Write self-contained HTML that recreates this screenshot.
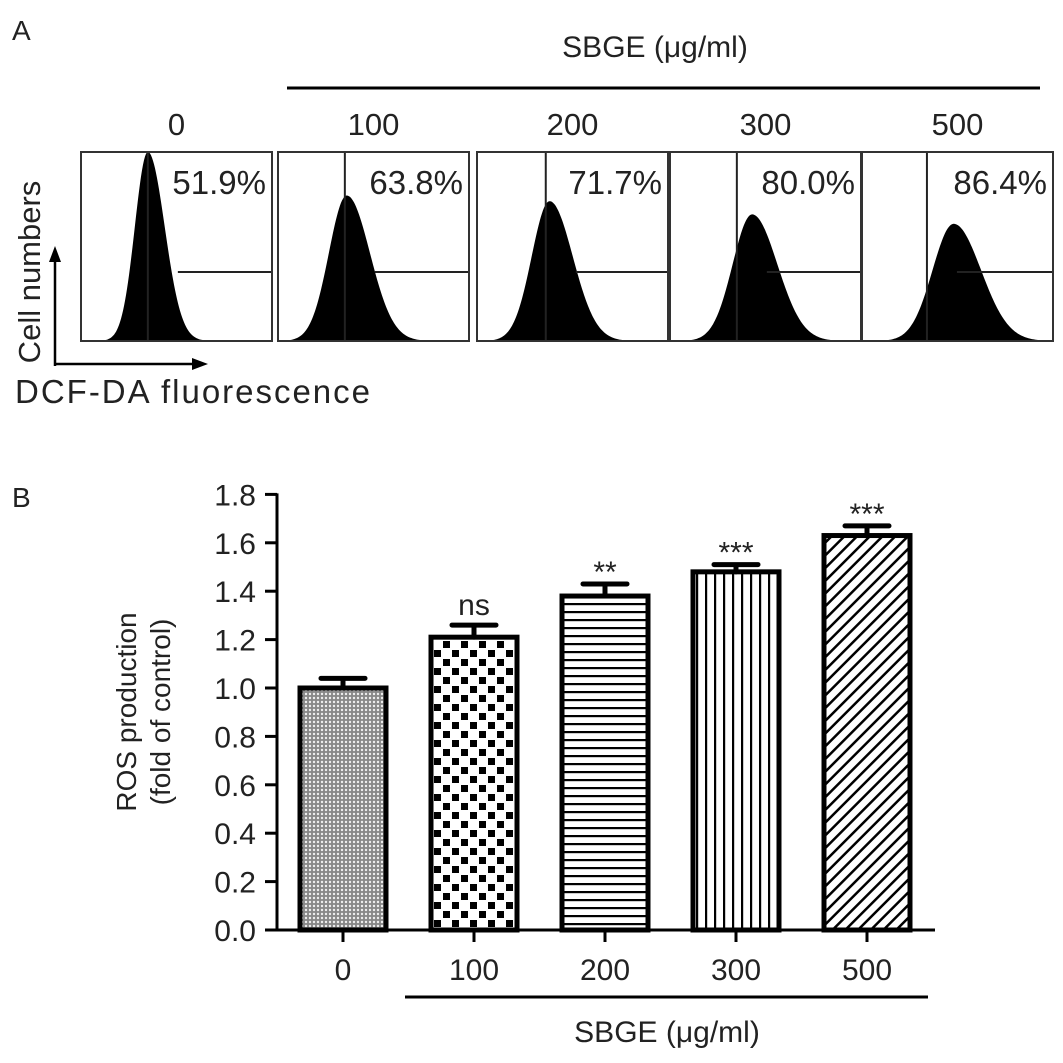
<!DOCTYPE html>
<html><head><meta charset="utf-8"><style>
body{margin:0;background:#fff;}
svg{display:block;font-family:"Liberation Sans",sans-serif;}
</style></head><body>
<svg id="fig" width="1063" height="1063" viewBox="0 0 1063 1063">
<defs>
<pattern id="p0" width="4" height="4" patternUnits="userSpaceOnUse"><rect width="4" height="4" fill="#888"/><circle cx="2" cy="2" r="1.2" fill="#eee"/></pattern>
<pattern id="p1" width="18" height="18" patternUnits="userSpaceOnUse"><rect width="18" height="18" fill="#fff"/><rect x="2" y="2" width="7" height="7" fill="#000"/><rect x="11" y="11" width="7" height="7" fill="#000"/></pattern>
<pattern id="p2" width="8" height="8" patternUnits="userSpaceOnUse"><rect width="8" height="8" fill="#fff"/><rect y="3" width="8" height="2.2" fill="#000"/></pattern>
<pattern id="p3" width="9" height="9" patternUnits="userSpaceOnUse"><rect width="9" height="9" fill="#fff"/><rect x="3" width="2.2" height="9" fill="#000"/></pattern>
<pattern id="p4" width="9" height="9" patternUnits="userSpaceOnUse" patternTransform="rotate(45)"><rect width="9" height="9" fill="#fff"/><rect x="3" width="2.5" height="9" fill="#000"/></pattern>
</defs>
<g id="panelA">
<text x="12" y="40" font-size="28" fill="#222">A</text>
<text x="655" y="57" font-size="30" text-anchor="middle" fill="#222">SBGE (μg/ml)</text>
<line x1="287" y1="88" x2="1040" y2="88" stroke="#000" stroke-width="3"/>
<line x1="55" y1="366" x2="55" y2="258" stroke="#000" stroke-width="2.5"/>
<polygon points="55,246 49,262 61,262" fill="#000"/>
<line x1="55" y1="364" x2="196" y2="364" stroke="#000" stroke-width="2.5"/>
<polygon points="208,364 192,358 192,370" fill="#000"/>
<text transform="translate(40,272) rotate(-90)" font-size="31" text-anchor="middle" fill="#222">Cell numbers</text>
<text x="15" y="403" font-size="33" fill="#222" textLength="355">DCF-DA fluorescence</text>
</g>
<g id="hists"></g>
<g id="panelB">
<text x="12" y="507" font-size="28" fill="#222">B</text>
<text transform="translate(136,712) rotate(-90)" font-size="28" text-anchor="middle" fill="#222">ROS production</text>
<text transform="translate(170,712) rotate(-90)" font-size="28" text-anchor="middle" fill="#222">(fold of control)</text>
<line x1="405" y1="997" x2="928" y2="997" stroke="#000" stroke-width="3"/>
<text x="667" y="1042" font-size="30" text-anchor="middle" fill="#222">SBGE (μg/ml)</text>
</g>
<g id="chart"></g>
</svg>
<script>
const NS="http://www.w3.org/2000/svg";
// Panel A data
const doses=["0","100","200","300","500"];
const pct=["51.9%","63.8%","71.7%","80.0%","86.4%"];
const peakPos=[0.35,0.36,0.38,0.43,0.48];   // relative position of histogram peak
const peakH=[1.0,0.77,0.74,0.67,0.62];       // relative peak height
const spread=[0.08,0.11,0.11,0.12,0.13];     // relative spread
const gatePos=[0.35,0.35,0.36,0.35,0.34];
// Panel B data
const cats=["0","100","200","300","500"];
const vals=[1.00,1.21,1.38,1.48,1.63];
const errs=[0.04,0.05,0.05,0.03,0.04];
const sig=["","ns","**","***","***"];
const yTicks=[0,0.2,0.4,0.6,0.8,1.0,1.2,1.4,1.6,1.8];
const pats=["p0","p1","p2","p3","p4"];

function mk(t,a,p){const e=document.createElementNS(NS,t);for(const k in a)e.setAttribute(k,a[k]);(p||document.getElementById('fig')).appendChild(e);return e;}
const H=document.getElementById('hists');
const boxX=[81,278,477,670,862], boxW=191, boxT=152, boxB=341, gateY=272;
doses.forEach((d,i)=>{
  const x0=boxX[i], g=mk('g',{},H);
  
  
  const lbl=mk('text',{x:x0+boxW/2,y:135,'font-size':31,'text-anchor':'middle',fill:'#222'},g);lbl.textContent=d;
  
  
  const pk=x0+peakPos[i]*boxW, sd=spread[i]*boxW, h=peakH[i]*(boxB-boxT);
  let pts=[];
  for(let x=x0;x<=x0+boxW;x+=1){const s=x<pk?sd*0.85:sd*1.1;const y=boxB-h*Math.exp(-0.5*((x-pk)/s)**2);pts.push(x+','+y.toFixed(1));}
  const hp=mk('polygon',{points:x0+','+boxB+' '+pts.join(' ')+' '+(x0+boxW)+','+boxB,fill:'#000'},g);
  
  
  const gx=x0+gatePos[i]*boxW;
  mk('line',{x1:gx,y1:boxT,x2:gx,y2:boxB,stroke:'#222','stroke-width':2},g);
  mk('line',{x1:gx+30,y1:gateY,x2:x0+boxW,y2:gateY,stroke:'#222','stroke-width':2},g);
  const r=mk('rect',{x:x0,y:boxT,width:boxW,height:boxB-boxT,fill:'none',stroke:'#333','stroke-width':2},g);
  
  
  const t=mk('text',{x:x0+boxW-6,y:194,'font-size':33,'text-anchor':'end',fill:'#222'},g);t.textContent=pct[i];
  
  
});
// Bar chart
const C=document.getElementById('chart');
const y0=930, pxPer=242, axX=277;
const yS=v=>y0-v*pxPer;
const xS=i=>343+i*131;
mk('line',{x1:axX,y1:yS(1.8)-1,x2:axX,y2:y0+1.5,stroke:'#000','stroke-width':3},C);
mk('line',{x1:axX-12,y1:y0,x2:935,y2:y0,stroke:'#000','stroke-width':3},C);
yTicks.forEach(v=>{
  const tk=mk('line',{x1:axX-12,y1:yS(v),x2:axX,y2:yS(v),stroke:'#000','stroke-width':3},C);
  
  
  const t=mk('text',{x:axX-21,y:yS(v)+11,'font-size':30,'text-anchor':'end',fill:'#222'},C);t.textContent=v.toFixed(1);
  
  
});
cats.forEach((c,i)=>{
  const cx=xS(i), w=86;
  const b=mk('rect',{x:cx-w/2,y:yS(vals[i]),width:w,height:y0-yS(vals[i]),fill:'url(#'+pats[i]+')',stroke:'#000','stroke-width':5},C);
  
  
  const e=mk('path',{d:`M${cx},${yS(vals[i])} V${yS(vals[i]+errs[i])} M${cx-22},${yS(vals[i]+errs[i])} H${cx+22}`,stroke:'#000','stroke-width':5,'stroke-linecap':'round',fill:'none'},C);
  
  
  const tk=mk('line',{x1:cx,y1:y0,x2:cx,y2:y0+12,stroke:'#000','stroke-width':3},C);
  
  
  const t=mk('text',{x:cx,y:980,'font-size':30,'text-anchor':'middle',fill:'#222'},C);t.textContent=c;
  
  
  if(sig[i]){const s=mk('text',{x:cx,y:yS(vals[i]+errs[i])-(sig[i]=='ns'?10:2),'font-size':30,'text-anchor':'middle',fill:'#222'},C);s.textContent=sig[i];
    
    }
});
</script>
</body></html>
